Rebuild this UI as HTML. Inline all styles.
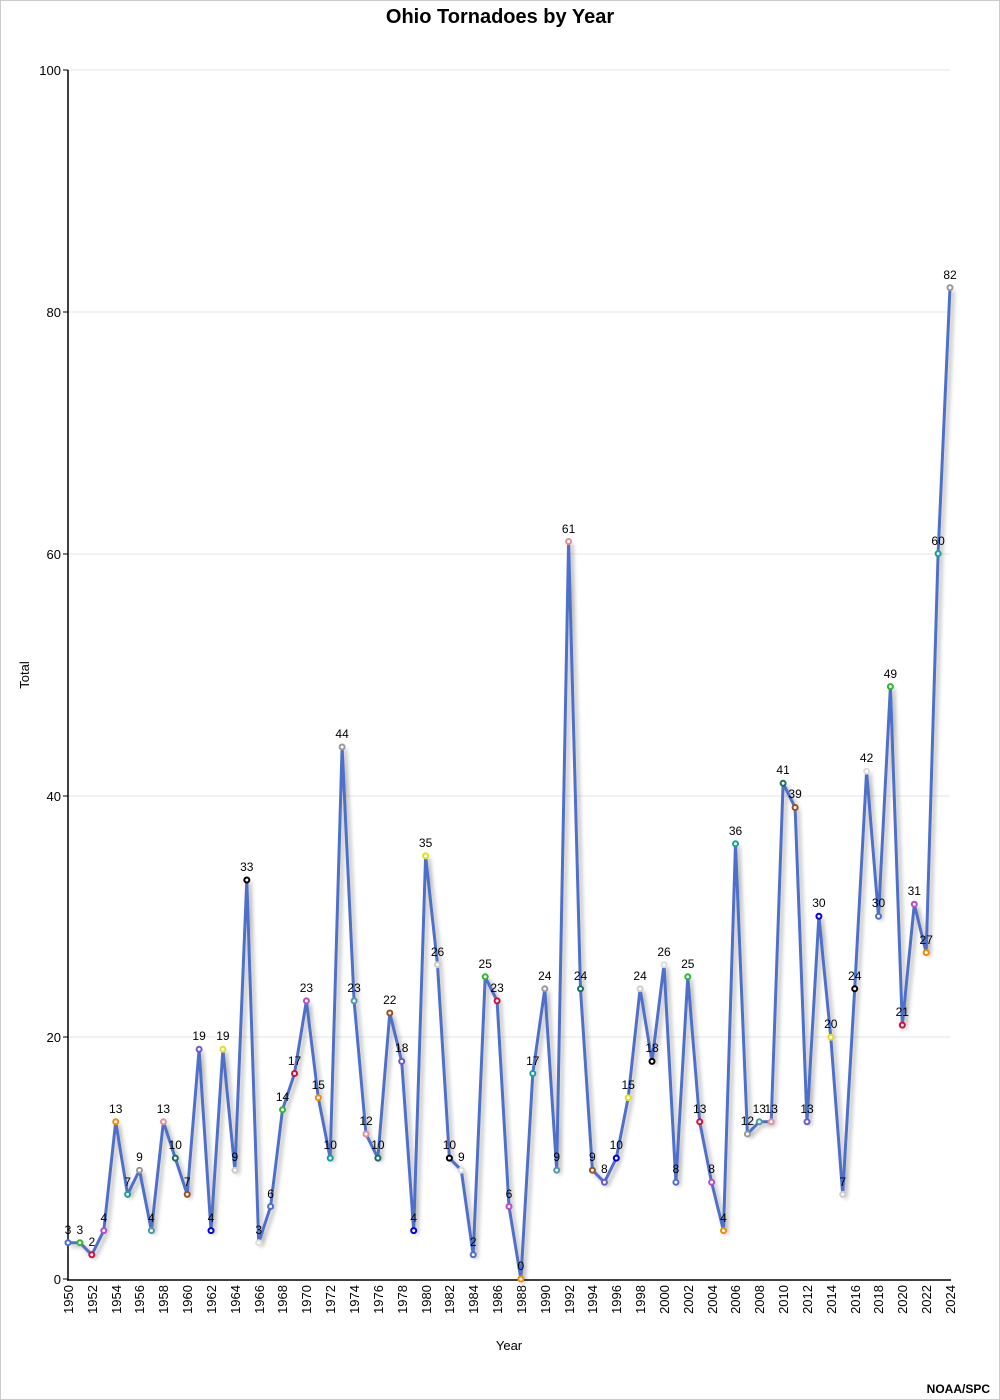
<!DOCTYPE html>
<html><head><meta charset="utf-8"><style>
html,body{margin:0;padding:0;background:#fff}
svg{display:block;font-family:"Liberation Sans",sans-serif}
</style></head><body>
<svg width="1000" height="1400" viewBox="0 0 1000 1400" xmlns="http://www.w3.org/2000/svg">
<defs><filter id="sh" x="-5%" y="-5%" width="110%" height="110%"><feGaussianBlur in="SourceAlpha" stdDeviation="2"/><feOffset dx="3" dy="3"/><feComponentTransfer><feFuncA type="linear" slope="0.3"/></feComponentTransfer><feMerge><feMergeNode/><feMergeNode in="SourceGraphic"/></feMerge></filter></defs>
<rect x="0.5" y="0.5" width="999" height="1399" fill="#fff" stroke="#ccc"/>
<text x="500" y="23" text-anchor="middle" font-size="20" font-weight="bold">Ohio Tornadoes by Year</text>
<g stroke="#e6e6e6" stroke-width="1">
<line x1="68" y1="70" x2="950" y2="70"/><line x1="68" y1="312" x2="950" y2="312"/><line x1="68" y1="554" x2="950" y2="554"/><line x1="68" y1="796" x2="950" y2="796"/><line x1="68" y1="1037" x2="950" y2="1037"/>
</g>
<g stroke="#000" stroke-width="1.5"><line x1="68" y1="70" x2="68" y2="1280"/><line x1="67" y1="1280" x2="951" y2="1280"/></g>
<g stroke="#000"><line x1="63" y1="70" x2="68" y2="70"/><line x1="63" y1="312" x2="68" y2="312"/><line x1="63" y1="554" x2="68" y2="554"/><line x1="63" y1="796" x2="68" y2="796"/><line x1="63" y1="1037" x2="68" y2="1037"/><line x1="63" y1="1279" x2="68" y2="1279"/></g>
<g font-size="13" text-anchor="end"><text x="61" y="75">100</text><text x="61" y="317">80</text><text x="61" y="559">60</text><text x="61" y="801">40</text><text x="61" y="1042">20</text><text x="61" y="1284">0</text></g>
<text transform="translate(29,675) rotate(-90)" text-anchor="middle" font-size="13">Total</text>
<text x="509" y="1350" text-anchor="middle" font-size="13">Year</text>
<text x="990" y="1393" text-anchor="end" font-size="12" font-weight="bold">NOAA/SPC</text>
<g font-size="13" text-anchor="end">
<text transform="translate(73,1285) rotate(-90)">1950</text><text transform="translate(97,1285) rotate(-90)">1952</text><text transform="translate(121,1285) rotate(-90)">1954</text><text transform="translate(144,1285) rotate(-90)">1956</text><text transform="translate(168,1285) rotate(-90)">1958</text><text transform="translate(192,1285) rotate(-90)">1960</text><text transform="translate(216,1285) rotate(-90)">1962</text><text transform="translate(240,1285) rotate(-90)">1964</text><text transform="translate(264,1285) rotate(-90)">1966</text><text transform="translate(287,1285) rotate(-90)">1968</text><text transform="translate(311,1285) rotate(-90)">1970</text><text transform="translate(335,1285) rotate(-90)">1972</text><text transform="translate(359,1285) rotate(-90)">1974</text><text transform="translate(383,1285) rotate(-90)">1976</text><text transform="translate(407,1285) rotate(-90)">1978</text><text transform="translate(431,1285) rotate(-90)">1980</text><text transform="translate(454,1285) rotate(-90)">1982</text><text transform="translate(478,1285) rotate(-90)">1984</text><text transform="translate(502,1285) rotate(-90)">1986</text><text transform="translate(526,1285) rotate(-90)">1988</text><text transform="translate(550,1285) rotate(-90)">1990</text><text transform="translate(574,1285) rotate(-90)">1992</text><text transform="translate(597,1285) rotate(-90)">1994</text><text transform="translate(621,1285) rotate(-90)">1996</text><text transform="translate(645,1285) rotate(-90)">1998</text><text transform="translate(669,1285) rotate(-90)">2000</text><text transform="translate(693,1285) rotate(-90)">2002</text><text transform="translate(717,1285) rotate(-90)">2004</text><text transform="translate(740,1285) rotate(-90)">2006</text><text transform="translate(764,1285) rotate(-90)">2008</text><text transform="translate(788,1285) rotate(-90)">2010</text><text transform="translate(812,1285) rotate(-90)">2012</text><text transform="translate(836,1285) rotate(-90)">2014</text><text transform="translate(860,1285) rotate(-90)">2016</text><text transform="translate(883,1285) rotate(-90)">2018</text><text transform="translate(907,1285) rotate(-90)">2020</text><text transform="translate(931,1285) rotate(-90)">2022</text><text transform="translate(955,1285) rotate(-90)">2024</text>
</g>
<polyline filter="url(#sh)" fill="none" stroke="#4f6fc8" stroke-width="3" stroke-linejoin="round" points="68,1242.7 79.9,1242.7 91.8,1254.8 103.8,1230.6 115.7,1121.8 127.6,1194.4 139.5,1170.2 151.4,1230.6 163.4,1121.8 175.3,1158.1 187.2,1194.4 199.1,1049.3 211,1230.6 222.9,1049.3 234.9,1170.2 246.8,880 258.7,1242.7 270.6,1206.5 282.5,1109.7 294.5,1073.5 306.4,1000.9 318.3,1097.7 330.2,1158.1 342.1,747 354.1,1000.9 366,1134 377.9,1158.1 389.8,1013 401.7,1061.4 413.7,1230.6 425.6,855.9 437.5,964.7 449.4,1158.1 461.3,1170.2 473.2,1254.8 485.2,976.8 497.1,1000.9 509,1206.5 520.9,1279 532.8,1073.5 544.8,988.8 556.7,1170.2 568.6,541.5 580.5,988.8 592.4,1170.2 604.4,1182.3 616.3,1158.1 628.2,1097.7 640.1,988.8 652,1061.4 664,964.7 675.9,1182.3 687.8,976.8 699.7,1121.8 711.6,1182.3 723.5,1230.6 735.5,843.8 747.4,1134 759.3,1121.8 771.2,1121.8 783.1,783.3 795.1,807.5 807,1121.8 818.9,916.3 830.8,1037.2 842.7,1194.4 854.7,988.8 866.6,771.2 878.5,916.3 890.4,686.6 902.3,1025.1 914.3,904.2 926.2,952.6 938.1,553.6 950,287.6"/>
<g fill="#fff" stroke-width="2">
<circle cx="68" cy="1242.7" r="2.5" stroke="#4f6fc8"/><circle cx="79.9" cy="1242.7" r="2.5" stroke="#2db82d"/><circle cx="91.8" cy="1254.8" r="2.5" stroke="#d0103a"/><circle cx="103.8" cy="1230.6" r="2.5" stroke="#b84cc8"/><circle cx="115.7" cy="1121.8" r="2.5" stroke="#f08c00"/><circle cx="127.6" cy="1194.4" r="2.5" stroke="#17a09a"/><circle cx="139.5" cy="1170.2" r="2.5" stroke="#999"/><circle cx="151.4" cy="1230.6" r="2.5" stroke="#4a9aaa"/><circle cx="163.4" cy="1121.8" r="2.5" stroke="#e0909a"/><circle cx="175.3" cy="1158.1" r="2.5" stroke="#1a7060"/><circle cx="187.2" cy="1194.4" r="2.5" stroke="#9a5020"/><circle cx="199.1" cy="1049.3" r="2.5" stroke="#6a5acd"/><circle cx="211" cy="1230.6" r="2.5" stroke="#0000e0"/><circle cx="222.9" cy="1049.3" r="2.5" stroke="#e0e020"/><circle cx="234.9" cy="1170.2" r="2.5" stroke="#ccc"/><circle cx="246.8" cy="880" r="2.5" stroke="#000"/><circle cx="258.7" cy="1242.7" r="2.5" stroke="#ddd"/><circle cx="270.6" cy="1206.5" r="2.5" stroke="#4f6fc8"/><circle cx="282.5" cy="1109.7" r="2.5" stroke="#2db82d"/><circle cx="294.5" cy="1073.5" r="2.5" stroke="#d0103a"/><circle cx="306.4" cy="1000.9" r="2.5" stroke="#b84cc8"/><circle cx="318.3" cy="1097.7" r="2.5" stroke="#f08c00"/><circle cx="330.2" cy="1158.1" r="2.5" stroke="#17a09a"/><circle cx="342.1" cy="747" r="2.5" stroke="#999"/><circle cx="354.1" cy="1000.9" r="2.5" stroke="#4a9aaa"/><circle cx="366" cy="1134" r="2.5" stroke="#e0909a"/><circle cx="377.9" cy="1158.1" r="2.5" stroke="#1a7060"/><circle cx="389.8" cy="1013" r="2.5" stroke="#9a5020"/><circle cx="401.7" cy="1061.4" r="2.5" stroke="#6a5acd"/><circle cx="413.7" cy="1230.6" r="2.5" stroke="#0000e0"/><circle cx="425.6" cy="855.9" r="2.5" stroke="#e0e020"/><circle cx="437.5" cy="964.7" r="2.5" stroke="#ccc"/><circle cx="449.4" cy="1158.1" r="2.5" stroke="#000"/><circle cx="461.3" cy="1170.2" r="2.5" stroke="#ddd"/><circle cx="473.2" cy="1254.8" r="2.5" stroke="#4f6fc8"/><circle cx="485.2" cy="976.8" r="2.5" stroke="#2db82d"/><circle cx="497.1" cy="1000.9" r="2.5" stroke="#d0103a"/><circle cx="509" cy="1206.5" r="2.5" stroke="#b84cc8"/><circle cx="520.9" cy="1279" r="2.5" stroke="#f08c00"/><circle cx="532.8" cy="1073.5" r="2.5" stroke="#17a09a"/><circle cx="544.8" cy="988.8" r="2.5" stroke="#999"/><circle cx="556.7" cy="1170.2" r="2.5" stroke="#4a9aaa"/><circle cx="568.6" cy="541.5" r="2.5" stroke="#e0909a"/><circle cx="580.5" cy="988.8" r="2.5" stroke="#1a7060"/><circle cx="592.4" cy="1170.2" r="2.5" stroke="#9a5020"/><circle cx="604.4" cy="1182.3" r="2.5" stroke="#6a5acd"/><circle cx="616.3" cy="1158.1" r="2.5" stroke="#0000e0"/><circle cx="628.2" cy="1097.7" r="2.5" stroke="#e0e020"/><circle cx="640.1" cy="988.8" r="2.5" stroke="#ccc"/><circle cx="652" cy="1061.4" r="2.5" stroke="#000"/><circle cx="664" cy="964.7" r="2.5" stroke="#ddd"/><circle cx="675.9" cy="1182.3" r="2.5" stroke="#4f6fc8"/><circle cx="687.8" cy="976.8" r="2.5" stroke="#2db82d"/><circle cx="699.7" cy="1121.8" r="2.5" stroke="#d0103a"/><circle cx="711.6" cy="1182.3" r="2.5" stroke="#b84cc8"/><circle cx="723.5" cy="1230.6" r="2.5" stroke="#f08c00"/><circle cx="735.5" cy="843.8" r="2.5" stroke="#17a09a"/><circle cx="747.4" cy="1134" r="2.5" stroke="#999"/><circle cx="759.3" cy="1121.8" r="2.5" stroke="#4a9aaa"/><circle cx="771.2" cy="1121.8" r="2.5" stroke="#e0909a"/><circle cx="783.1" cy="783.3" r="2.5" stroke="#1a7060"/><circle cx="795.1" cy="807.5" r="2.5" stroke="#9a5020"/><circle cx="807" cy="1121.8" r="2.5" stroke="#6a5acd"/><circle cx="818.9" cy="916.3" r="2.5" stroke="#0000e0"/><circle cx="830.8" cy="1037.2" r="2.5" stroke="#e0e020"/><circle cx="842.7" cy="1194.4" r="2.5" stroke="#ccc"/><circle cx="854.7" cy="988.8" r="2.5" stroke="#000"/><circle cx="866.6" cy="771.2" r="2.5" stroke="#ddd"/><circle cx="878.5" cy="916.3" r="2.5" stroke="#4f6fc8"/><circle cx="890.4" cy="686.6" r="2.5" stroke="#2db82d"/><circle cx="902.3" cy="1025.1" r="2.5" stroke="#d0103a"/><circle cx="914.3" cy="904.2" r="2.5" stroke="#b84cc8"/><circle cx="926.2" cy="952.6" r="2.5" stroke="#f08c00"/><circle cx="938.1" cy="553.6" r="2.5" stroke="#17a09a"/><circle cx="950" cy="287.6" r="2.5" stroke="#999"/>
</g>
<g font-size="12" text-anchor="middle">
<text x="68" y="1234">3</text><text x="79.9" y="1234">3</text><text x="91.8" y="1246">2</text><text x="103.8" y="1222">4</text><text x="115.7" y="1113">13</text><text x="127.6" y="1186">7</text><text x="139.5" y="1161">9</text><text x="151.4" y="1222">4</text><text x="163.4" y="1113">13</text><text x="175.3" y="1149">10</text><text x="187.2" y="1186">7</text><text x="199.1" y="1040">19</text><text x="211" y="1222">4</text><text x="222.9" y="1040">19</text><text x="234.9" y="1161">9</text><text x="246.8" y="871">33</text><text x="258.7" y="1234">3</text><text x="270.6" y="1198">6</text><text x="282.5" y="1101">14</text><text x="294.5" y="1065">17</text><text x="306.4" y="992">23</text><text x="318.3" y="1089">15</text><text x="330.2" y="1149">10</text><text x="342.1" y="738">44</text><text x="354.1" y="992">23</text><text x="366" y="1125">12</text><text x="377.9" y="1149">10</text><text x="389.8" y="1004">22</text><text x="401.7" y="1052">18</text><text x="413.7" y="1222">4</text><text x="425.6" y="847">35</text><text x="437.5" y="956">26</text><text x="449.4" y="1149">10</text><text x="461.3" y="1161">9</text><text x="473.2" y="1246">2</text><text x="485.2" y="968">25</text><text x="497.1" y="992">23</text><text x="509" y="1198">6</text><text x="520.9" y="1270">0</text><text x="532.8" y="1065">17</text><text x="544.8" y="980">24</text><text x="556.7" y="1161">9</text><text x="568.6" y="533">61</text><text x="580.5" y="980">24</text><text x="592.4" y="1161">9</text><text x="604.4" y="1173">8</text><text x="616.3" y="1149">10</text><text x="628.2" y="1089">15</text><text x="640.1" y="980">24</text><text x="652" y="1052">18</text><text x="664" y="956">26</text><text x="675.9" y="1173">8</text><text x="687.8" y="968">25</text><text x="699.7" y="1113">13</text><text x="711.6" y="1173">8</text><text x="723.5" y="1222">4</text><text x="735.5" y="835">36</text><text x="747.4" y="1125">12</text><text x="759.3" y="1113">13</text><text x="771.2" y="1113">13</text><text x="783.1" y="774">41</text><text x="795.1" y="798">39</text><text x="807" y="1113">13</text><text x="818.9" y="907">30</text><text x="830.8" y="1028">20</text><text x="842.7" y="1186">7</text><text x="854.7" y="980">24</text><text x="866.6" y="762">42</text><text x="878.5" y="907">30</text><text x="890.4" y="678">49</text><text x="902.3" y="1016">21</text><text x="914.3" y="895">31</text><text x="926.2" y="944">27</text><text x="938.1" y="545">60</text><text x="950" y="279">82</text>
</g>
</svg>
</body></html>
